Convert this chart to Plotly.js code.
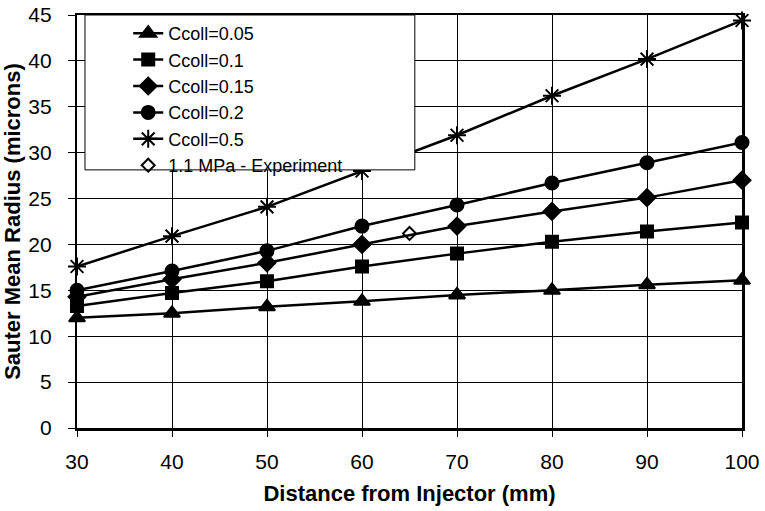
<!DOCTYPE html>
<html>
<head>
<meta charset="utf-8">
<script src="https://cdn.plot.ly/plotly-3.0.1.min.js"></script>
<style>html,body{margin:0;padding:0;background:#fff;}#chart{width:765px;height:511px;}</style>
</head>
<body>
<div id="chart"></div>
<script>
const distance = [30, 40, 50, 60, 70, 80, 90, 100];
const ccoll005 = [12.0, 12.5, 13.2, 13.8, 14.5, 15.0, 15.6, 16.1];
const ccoll01  = [13.3, 14.7, 16.0, 17.6, 19.0, 20.3, 21.4, 22.4];
const ccoll015 = [14.3, 16.2, 18.0, 20.0, 22.0, 23.6, 25.1, 27.0];
const ccoll02  = [15.0, 17.1, 19.3, 22.0, 24.3, 26.7, 28.9, 31.1];
const ccoll05  = [17.6, 20.9, 24.1, 28.0, 31.9, 36.2, 40.2, 44.4];
const expX = [65];
const expY = [21.2];
const seriesNames = ['Ccoll=0.05', 'Ccoll=0.1', 'Ccoll=0.15', 'Ccoll=0.2', 'Ccoll=0.5', '1.1 MPa - Experiment'];
const xTitle = 'Distance from Injector (mm)';
const yTitle = 'Sauter Mean Radius (microns)';

const lineStyle = {color: '#000', width: 2.5};
function simTrace(y, name, symbol, size) {
  return {
    x: distance, y: y, name: name, type: 'scatter', mode: 'lines+markers',
    line: lineStyle, cliponaxis: false,
    marker: {symbol: symbol, size: size, color: '#000', line: {color: '#000', width: 2}}
  };
}
const traces = [
  simTrace(ccoll005, seriesNames[0], 'triangle-up', 14),
  simTrace(ccoll01, seriesNames[1], 'square', 12),
  simTrace(ccoll015, seriesNames[2], 'diamond', 13),
  simTrace(ccoll02, seriesNames[3], 'circle', 13),
  simTrace(ccoll05, seriesNames[4], 'asterisk-open', 15),
  {x: expX, y: expY, name: seriesNames[5], type: 'scatter', mode: 'markers', cliponaxis: false,
   marker: {symbol: 'diamond-open', size: 10, color: '#000', line: {color: '#000', width: 2}}}
];

const fontFam = '"Liberation Sans", Arial, sans-serif';
const layout = {
  width: 765, height: 511,
  margin: {l: 77, r: 23, t: 15, b: 83},
  paper_bgcolor: '#fff', plot_bgcolor: '#fff',
  font: {family: fontFam, color: '#000', size: 20},
  showlegend: true,
  legend: {x: 0.077, xanchor: 'left', y: 1.0, yanchor: 'top', bgcolor: 'rgba(0,0,0,0)',
           borderwidth: 0, font: {family: fontFam, size: 18, color: '#000'}},
  shapes: [{type: 'rect', xref: 'paper', yref: 'paper', x0: 0.012, x1: 0.508, y0: 0.625, y1: 1.0,
            fillcolor: '#fff', line: {color: '#000', width: 1}, layer: 'above'}],
  xaxis: {
    range: [30, 100], dtick: 10, tick0: 30, showgrid: true, gridcolor: '#000', gridwidth: 1,
    showline: true, linecolor: '#000', linewidth: 2.5, mirror: true,
    ticks: 'outside', ticklen: 6, tickcolor: '#000', tickwidth: 1,
    zeroline: false, ticklabelstandoff: 7,
    tickfont: {family: fontFam, size: 21},
    title: {text: '<b>' + xTitle + '</b>', font: {family: fontFam, size: 22}, standoff: 14}
  },
  yaxis: {
    range: [0, 45], dtick: 5, tick0: 0, showgrid: true, gridcolor: '#000', gridwidth: 1,
    showline: true, linecolor: '#000', linewidth: 2.5, mirror: true,
    ticks: 'outside', ticklen: 7, tickcolor: '#000', tickwidth: 1,
    zeroline: false, ticksuffix: '\u00a0\u00a0',
    tickfont: {family: fontFam, size: 21},
    title: {text: '<b>' + yTitle + '</b>', font: {family: fontFam, size: 22}, standoff: 2}
  }
};
Plotly.newPlot('chart', traces, layout, {displayModeBar: false, staticPlot: true});
</script>
</body>
</html>
